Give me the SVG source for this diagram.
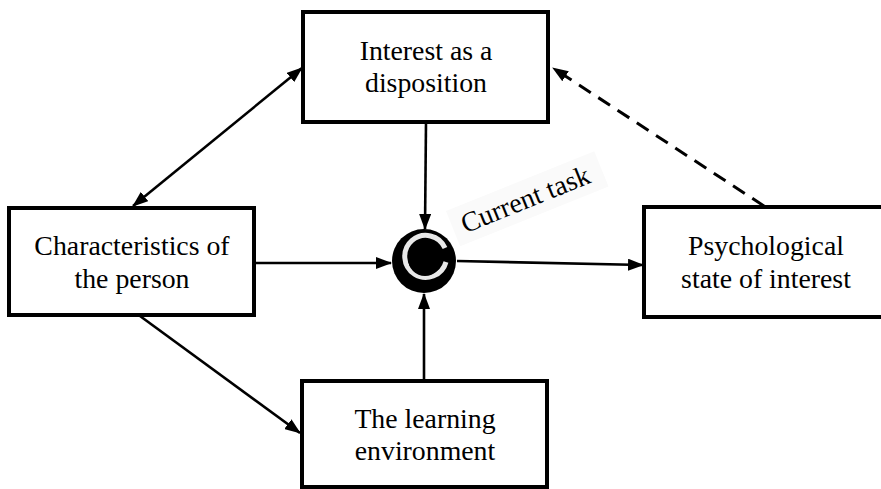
<svg xmlns="http://www.w3.org/2000/svg" width="881" height="489" viewBox="0 0 881 489">
<style>
.box{fill:#fff;stroke:#000;stroke-width:4}
.lbl{font-size:27.8px;fill:#000;text-anchor:middle}
.con{stroke:#000;stroke-width:2.6;fill:none}
.dash{stroke-dasharray:14 9;stroke-width:3}
</style>
<defs>
<marker id="ah" markerUnits="userSpaceOnUse" markerWidth="16" markerHeight="12" refX="15" refY="6" orient="auto-start-reverse" viewBox="0 0 16 12">
<path d="M0,0 L16,6 L0,12 Z" fill="#000"/>
</marker>
</defs>
<rect width="881" height="489" fill="#fff"/>
<g font-family="Liberation Serif, Times New Roman, DejaVu Serif, serif">
<g id="current-task-label">
<rect x="450" y="180" width="160" height="38" fill="#fafafa" transform="rotate(-22 528 206)"/>
<text class="lbl" x="528" y="208" transform="rotate(-22 528 206)">Current task</text>
</g>
<g id="connectors">
<line class="con" x1="426" y1="122" x2="425" y2="229" marker-end="url(#ah)"/>
<line class="con" x1="254" y1="263" x2="391" y2="263" marker-end="url(#ah)"/>
<line class="con" x1="424" y1="381" x2="424" y2="294" marker-end="url(#ah)"/>
<line class="con" x1="457" y1="261" x2="643" y2="265" marker-end="url(#ah)"/>
<line class="con" x1="133" y1="206" x2="302" y2="68" marker-start="url(#ah)" marker-end="url(#ah)"/>
<line class="con" x1="140" y1="316" x2="300" y2="433" marker-end="url(#ah)"/>
<line class="con dash" x1="764" y1="206" x2="553" y2="68" marker-end="url(#ah)"/>
</g>
<g id="interest-disposition">
<rect class="box" x="303" y="12" width="245" height="110"/>
<text class="lbl" x="426" y="60">Interest as a</text>
<text class="lbl" x="426" y="92">disposition</text>
</g>
<g id="characteristics-person">
<rect class="box" x="9" y="208" width="245" height="107"/>
<text class="lbl" x="132" y="255">Characteristics of</text>
<text class="lbl" x="132" y="288">the person</text>
</g>
<g id="psychological-state">
<rect class="box" x="644" y="207" width="246" height="110"/>
<text class="lbl" x="766" y="255">Psychological</text>
<text class="lbl" x="766" y="288">state of interest</text>
</g>
<g id="learning-environment">
<rect class="box" x="302" y="381" width="245" height="106"/>
<text class="lbl" x="425" y="428">The learning</text>
<text class="lbl" x="425" y="460">environment</text>
</g>
<g id="current-task-node">
<circle cx="424" cy="261" r="32" fill="#000"/>
<path d="M445,248 A21,21 0 1 0 446,262" fill="none" stroke="#e8e8e8" stroke-width="5"/>
<circle cx="425" cy="259" r="17" fill="#000"/>
</g>
</g>
</svg>
